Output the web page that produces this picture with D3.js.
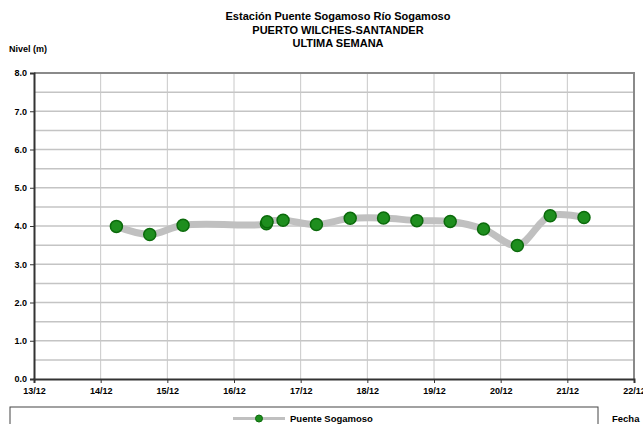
<!DOCTYPE html>
<html>
<head>
<meta charset="utf-8">
<script src="https://cdn.jsdelivr.net/npm/d3@7"></script>
<style>
  body { margin: 0; background: #fff; }
  svg { display: block; font-family: "Liberation Sans", Arial, sans-serif; }
</style>
</head>
<body>
<div id="chart"></div>
<script>
// Title lines
const titleLines = ["Estación Puente Sogamoso Río Sogamoso", "PUERTO WILCHES-SANTANDER", "ULTIMA SEMANA"];

// Readings (date-time, level in m)
const fechas = [
  "2019-12-14T05:40", "2019-12-14T17:40", "2019-12-15T05:40",
  "2019-12-16T11:40", "2019-12-16T11:55", "2019-12-16T17:40",
  "2019-12-17T05:40", "2019-12-17T17:50", "2019-12-18T05:50",
  "2019-12-18T17:50", "2019-12-19T05:50", "2019-12-19T17:50",
  "2019-12-20T06:00", "2019-12-20T17:50", "2019-12-21T06:00"
];
const niveles = [3.99, 3.78, 4.02, 4.06, 4.11, 4.15, 4.04, 4.20, 4.21, 4.14, 4.12, 3.92, 3.49, 4.27, 4.22];

const xTickLabels = ["13/12", "14/12", "15/12", "16/12", "17/12", "18/12", "19/12", "20/12", "21/12", "22/12"];
const yTicks = [0, 1, 2, 3, 4, 5, 6, 7, 8];
const yGrid = [0.5, 1, 1.5, 2, 2.5, 3, 3.5, 4, 4.5, 5, 5.5, 6, 6.5, 7, 7.5];

const W = 643, H = 424;
const margin = {top: 73, right: 9, bottom: 45, left: 34};
const parse = d3.timeParse("%Y-%m-%dT%H:%M");
const data = fechas.map((f, i) => ({t: parse(f), v: niveles[i]}));

const svg = d3.select("#chart").append("svg")
  .attr("width", W).attr("height", H);

const x = d3.scaleTime()
  .domain([parse("2019-12-13T00:00"), parse("2019-12-22T00:00")])
  .range([margin.left, W - margin.right]);
const y = d3.scaleLinear().domain([0, 8]).range([H - margin.bottom, margin.top]);

// title
svg.append("g").selectAll("text").data(titleLines).enter().append("text")
  .attr("x", 338).attr("y", (d, i) => 20 + i * 13.5)
  .attr("text-anchor", "middle")
  .attr("font-size", 11).attr("font-weight", "bold")
  .text(d => d);

svg.append("text").attr("x", 9).attr("y", 52)
  .attr("font-size", 9).attr("font-weight", "bold").text("Nivel (m)");

const xDays = d3.timeDay.range(parse("2019-12-13T00:00"), parse("2019-12-22T01:00"));

// grid
svg.append("g").selectAll("line").data(yGrid).enter().append("line")
  .attr("x1", x.range()[0]).attr("x2", x.range()[1])
  .attr("y1", d => y(d)).attr("y2", d => y(d))
  .attr("stroke", "#c4c4c4").attr("stroke-width", 1.5);
svg.append("g").selectAll("line").data(xDays.slice(1, -1)).enter().append("line")
  .attr("x1", d => x(d)).attr("x2", d => x(d))
  .attr("y1", y(0)).attr("y2", y(8))
  .attr("stroke", "#c8c8c8").attr("stroke-width", 1);

// frame top/right
svg.append("path")
  .attr("d", `M${x.range()[0]},${y(8)}H${x.range()[1]}V${y(0)}`)
  .attr("fill", "none").attr("stroke", "#8a8a8a").attr("stroke-width", 2);

// axes
const yAxis = svg.append("g").attr("transform", `translate(${margin.left},0)`)
  .call(d3.axisLeft(y).tickValues(yTicks).tickFormat(d3.format(".1f")).tickSize(4).tickPadding(3));
const xAxis = svg.append("g").attr("transform", `translate(0,${y(0)})`)
  .call(d3.axisBottom(x).tickValues(xDays).tickFormat((d, i) => xTickLabels[i]).tickSize(4).tickPadding(5));
[yAxis, xAxis].forEach(a => {
  a.select(".domain").attr("stroke", "#333").attr("stroke-width", 2);
  a.selectAll(".tick line").attr("stroke", "#333");
  a.selectAll("text").attr("font-size", 9).attr("font-weight", "bold")
    .attr("font-family", "Liberation Sans, Arial, sans-serif").attr("fill", "#000");
});

// series
const line = d3.line().x(d => x(d.t)).y(d => y(d.v)).curve(d3.curveCatmullRom.alpha(0.5));
svg.append("path").datum(data).attr("d", line)
  .attr("fill", "none").attr("stroke", "#c0c0c0").attr("stroke-width", 7)
  .attr("stroke-linejoin", "round");
svg.append("g").selectAll("circle").data(data).enter().append("circle")
  .attr("cx", d => x(d.t)).attr("cy", d => y(d.v)).attr("r", 6)
  .attr("fill", "#1e8e1e").attr("stroke", "#0b6a0b").attr("stroke-width", 1.5);

// legend
svg.append("rect").attr("x", 10).attr("y", 407).attr("width", 588).attr("height", 30)
  .attr("fill", "#fff").attr("stroke", "#444").attr("stroke-width", 1);
svg.append("line").attr("x1", 233).attr("x2", 285).attr("y1", 418.5).attr("y2", 418.5)
  .attr("stroke", "#c0c0c0").attr("stroke-width", 3);
svg.append("circle").attr("cx", 259).attr("cy", 418.5).attr("r", 3.5)
  .attr("fill", "#1e8e1e").attr("stroke", "#0b6a0b").attr("stroke-width", 1);
svg.append("text").attr("x", 290).attr("y", 422)
  .attr("font-size", 9.5).attr("font-weight", "bold").text("Puente Sogamoso");
svg.append("text").attr("x", 612).attr("y", 422)
  .attr("font-size", 9.5).attr("font-weight", "bold").text("Fecha");
</script>
</body>
</html>
